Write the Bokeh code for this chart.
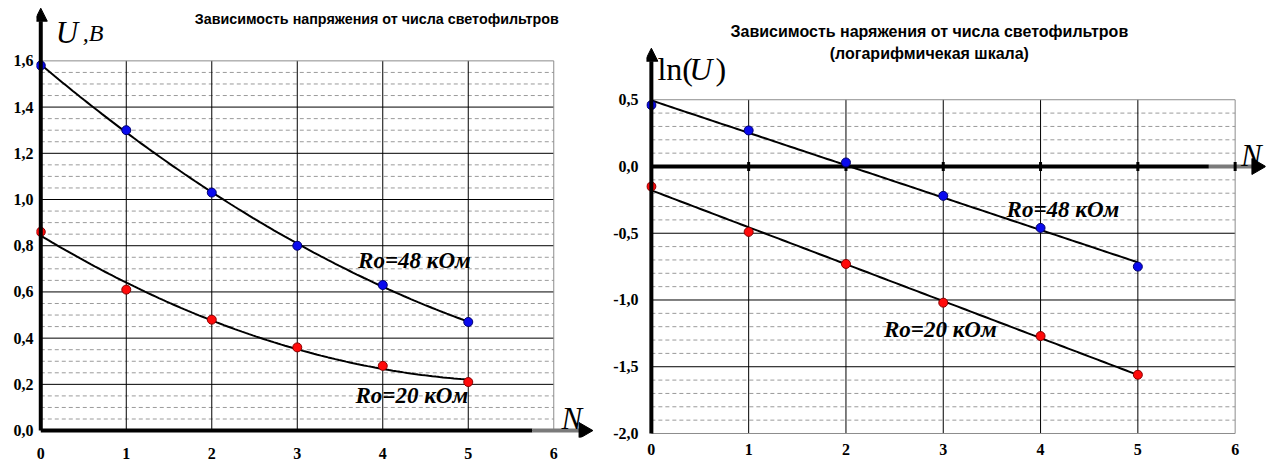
import numpy as np
from bokeh.plotting import figure
from bokeh.layouts import row
from bokeh.models import Label, Arrow, NormalHead, FixedTicker, CustomJSTickFormatter, Range1d
from bokeh.embed import file_html
from bokeh.resources import INLINE

# ---------------- data ----------------
N = [0, 1, 2, 3, 4, 5]
U_48 = [1.58, 1.30, 1.03, 0.80, 0.63, 0.47]
U_20 = [0.86, 0.61, 0.48, 0.36, 0.28, 0.21]
LN_48 = [0.46, 0.27, 0.03, -0.22, -0.46, -0.75]
LN_20 = [-0.15, -0.49, -0.73, -1.02, -1.27, -1.56]

X_TICKS = [0, 1, 2, 3, 4, 5, 6]
Y_TICKS_U = [0.0, 0.2, 0.4, 0.6, 0.8, 1.0, 1.2, 1.4, 1.6]
Y_MINOR_U = [i * 0.05 for i in range(1, 32) if i % 4]
Y_TICKS_LN = [-2.0, -1.5, -1.0, -0.5, 0.0, 0.5]
Y_MINOR_LN = [i * 0.1 for i in range(-19, 5) if i % 5]

TITLE_U = "Зависимость напряжения от числа светофильтров"
TITLE_LN = ["Зависимость наряжения от числа светофильтров", "(логарифмичекая шкала)"]
LABEL_48 = "Ro=48 кОм"
LABEL_20 = "Ro=20 кОм"

# trend lines fitted to the data (as in the original spreadsheet)
N_FINE = np.linspace(N[0], N[-1], 120)
FIT_U48 = np.polyval(np.polyfit(N, U_48, 2), N_FINE)
FIT_U20 = np.polyval(np.polyfit(N, U_20, 2), N_FINE)
FIT_LN48 = np.polyval(np.polyfit(N, LN_48, 1), N_FINE)
FIT_LN20 = np.polyval(np.polyfit(N, LN_20, 1), N_FINE)

SERIF = "'Liberation Serif', 'Times New Roman', serif"
SANS = "'Liberation Sans', Arial, sans-serif"
GRID_MINOR = "#9a9a9a"
BORDER = "#8c8c8c"
SHAFT = "#7a7a7a"

comma_fmt = CustomJSTickFormatter(code="return tick.toFixed(1).replace('.', ',');")
int_fmt = CustomJSTickFormatter(code="return tick.toFixed(0);")


def base_fig(xr, yr, fw, fh, bl, br, x_standoff, y_standoff):
    p = figure(frame_width=fw, frame_height=fh, x_range=Range1d(*xr), y_range=Range1d(*yr),
               output_backend="svg", toolbar_location=None,
               min_border_left=bl, min_border_right=br, min_border_top=7, min_border_bottom=30)
    p.outline_line_color = None
    p.xgrid.visible = False
    p.ygrid.visible = False
    p.background_fill_color = "white"
    p.border_fill_color = "white"
    for ax in (p.xaxis[0], p.yaxis[0]):
        ax.axis_line_color = None
        ax.major_tick_line_color = None
        ax.minor_tick_line_color = None
        ax.major_tick_out = 0
        ax.major_tick_in = 0
        ax.major_label_text_font = SERIF
        ax.major_label_text_font_style = "bold"
        ax.major_label_text_font_size = "16px"
        ax.major_label_text_color = "black"
    p.xaxis.ticker = FixedTicker(ticks=X_TICKS)
    p.xaxis.formatter = int_fmt
    p.xaxis.major_label_standoff = x_standoff
    p.yaxis.formatter = comma_fmt
    p.yaxis.major_label_standoff = y_standoff
    return p


def grid(p, y_major, y_minor, y_low, y_high, axis_y):
    x_lo, x_hi = X_TICKS[0], X_TICKS[-1]
    p.segment(x0=[x_lo] * len(y_minor), y0=y_minor, x1=[x_hi] * len(y_minor), y1=y_minor,
              line_color=GRID_MINOR, line_width=1, line_dash="4 3")
    inner = [y for y in y_major if y not in (y_low, y_high, axis_y)]
    p.segment(x0=[x_lo] * len(inner), y0=inner, x1=[x_hi] * len(inner), y1=inner,
              line_color="black", line_width=1)
    xs = X_TICKS[1:-1]
    p.segment(x0=xs, y0=[y_low] * len(xs), x1=xs, y1=[y_high] * len(xs),
              line_color="black", line_width=1)
    p.segment(x0=[x_hi, x_lo, x_lo], y0=[y_low, y_high, y_low],
              x1=[x_hi, x_hi, x_hi], y1=[y_high, y_high, y_low],
              line_color=BORDER, line_width=1)


def lab(p, x, y, text, font, size, style, align="left", baseline="alphabetic"):
    p.add_layout(Label(x=x, y=y, text=text, text_font=font, text_font_size=size,
                       text_font_style=style, text_align=align, text_baseline=baseline,
                       text_color="black"))


def y_arrow(p, y0, y1):
    p.add_layout(Arrow(x_start=X_TICKS[0], y_start=y0, x_end=X_TICKS[0], y_end=y1,
                       line_width=4, line_color="black",
                       end=NormalHead(size=13, fill_color="black", line_color="black", line_width=1)))


def x_axis(p, y, split, head_x):
    # black axis, a grey last part of the shaft, and a black arrow head pointing right
    p.segment(x0=[X_TICKS[0]], y0=[y], x1=[split], y1=[y], line_color="black", line_width=4)
    p.segment(x0=[split], y0=[y], x1=[head_x], y1=[y], line_color=SHAFT, line_width=4)
    p.scatter([head_x], [y], marker="triangle", angle=-np.pi / 2, size=16,
              fill_color="black", line_color="black", line_width=1)


# ---------------- left chart ----------------
left = base_fig((-0.05, 6.535), (-0.03, 1.831), 563, 430, 36, 5, 10, 3)
left.yaxis.ticker = FixedTicker(ticks=Y_TICKS_U)
grid(left, Y_TICKS_U, Y_MINOR_U, Y_TICKS_U[0], Y_TICKS_U[-1], Y_TICKS_U[0])
x_axis(left, 0, 5.75, 6.35)
y_arrow(left, 0, 1.828)

left.line(N_FINE, FIT_U48, line_color="black", line_width=2)
left.line(N_FINE, FIT_U20, line_color="black", line_width=2)
left.scatter(N, U_48, size=9, fill_color="#0a0aee", line_color="#00006e", line_width=1)
left.scatter(N, U_20, size=9, fill_color="#ff0a0a", line_color="#8a0000", line_width=1)

lab(left, 3.93, 1.781, TITLE_U, SANS, "14.3px", "bold", "center", "middle")
lab(left, 0.175, 1.721, "U", SERIF, "31px", "italic")
lab(left, 0.49, 1.721, ",B", SERIF, "24px", "italic")
lab(left, 6.09, 0.054, "N", SERIF, "31px", "italic")
lab(left, 4.37, 0.734, LABEL_48, SERIF, "23px", "bold italic", "center", "middle")
lab(left, 4.34, 0.152, LABEL_20, SERIF, "23px", "bold italic", "center", "middle")

# ---------------- right chart ----------------
right = base_fig((-0.05, 6.312), (-2.03, 1.191), 619, 430, 42, 1, 6, 8)
right.yaxis.ticker = FixedTicker(ticks=Y_TICKS_LN)
grid(right, Y_TICKS_LN, Y_MINOR_LN, Y_TICKS_LN[0], Y_TICKS_LN[-1], 0.0)
x_axis(right, 0.0, 5.73, 6.22)
y_arrow(right, Y_TICKS_LN[0], 0.886)
right.scatter(X_TICKS[1:], [0.0] * (len(X_TICKS) - 1), marker="dash", angle=np.pi / 2,
              size=9, line_color="black", line_width=3)

right.line(N_FINE, FIT_LN48, line_color="black", line_width=2)
right.line(N_FINE, FIT_LN20, line_color="black", line_width=2)
right.scatter(N, LN_48, size=9, fill_color="#0a0aee", line_color="#00006e", line_width=1)
right.scatter(N, LN_20, size=9, fill_color="#ff0a0a", line_color="#8a0000", line_width=1)

lab(right, 2.857, 1.011, TITLE_LN[0], SANS, "16px", "bold", "center", "middle")
lab(right, 2.857, 0.846, TITLE_LN[1], SANS, "16px", "bold", "center", "middle")
lab(right, 0.062, 0.727, "ln(", SERIF, "32px", "normal")
lab(right, 0.39, 0.727, "U", SERIF, "32px", "italic")
lab(right, 0.66, 0.727, ")", SERIF, "32px", "normal")
lab(right, 6.06, 0.082, "N", SERIF, "31px", "italic")
lab(right, 4.23, -0.322, LABEL_48, SERIF, "23px", "bold italic", "center", "middle")
lab(right, 2.97, -1.221, LABEL_20, SERIF, "23px", "bold italic", "center", "middle")

layout = row(left, right)
open("out.html", "w").write(file_html(layout, INLINE))
